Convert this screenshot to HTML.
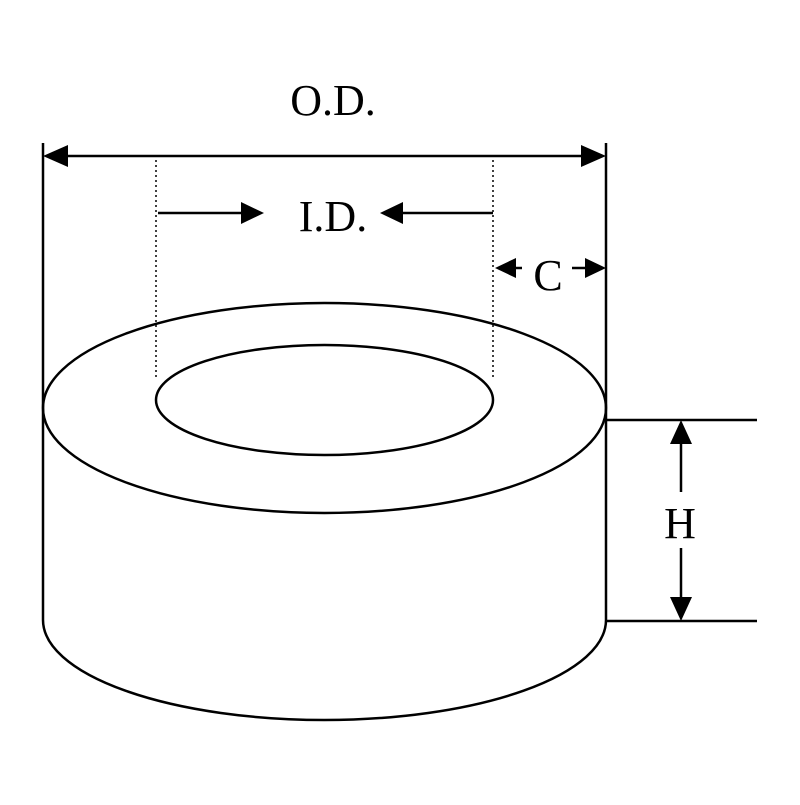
<!DOCTYPE html>
<html><head><meta charset="utf-8"><style>html,body{margin:0;padding:0;background:#fff}text{font-family:"Liberation Serif","Times New Roman",serif;}</style></head>
<body>
<svg width="800" height="800" viewBox="0 0 800 800" xmlns="http://www.w3.org/2000/svg">
<rect width="800" height="800" fill="#fff"/>
<g fill="none" stroke="#000" stroke-width="2.5">
<ellipse cx="324.5" cy="408" rx="281.5" ry="105"/>
<ellipse cx="324.5" cy="400" rx="168.5" ry="55"/>
<path d="M43,408 V620 A281.5,100 0 0 0 606,620 V408"/>
<line x1="43" y1="143" x2="43" y2="408"/>
<line x1="606" y1="143" x2="606" y2="408"/>
<line x1="60" y1="156" x2="590" y2="156"/>
<line x1="606" y1="420" x2="757" y2="420"/>
<line x1="606" y1="621" x2="757" y2="621"/>
<line x1="681" y1="438" x2="681" y2="492"/>
<line x1="681" y1="548" x2="681" y2="604"/>
<line x1="158" y1="213" x2="245" y2="213"/>
<line x1="396" y1="213" x2="493" y2="213"/>
<line x1="510" y1="268" x2="522" y2="268"/>
<line x1="572" y1="268" x2="590" y2="268"/>
</g>
<g fill="none" stroke="#000" stroke-width="1.5" stroke-dasharray="2,3">
<line x1="156" y1="160" x2="156" y2="378"/>
<line x1="493" y1="160" x2="493" y2="378"/>
</g>
<g fill="#000">
<polygon points="43,156 68,145 68,167"/>
<polygon points="606,156 581,145 581,167"/>
<polygon points="264,213 241,202 241,224"/>
<polygon points="380,213 403,202 403,224"/>
<polygon points="495,268 516,258 516,278"/>
<polygon points="606,268 585,258 585,278"/>
<polygon points="681,420 670,444 692,444"/>
<polygon points="681,621 670,597 692,597"/>
</g>
<g font-size="44" text-anchor="middle" fill="#000">
<text x="333" y="115">O.D.</text>
<text x="333" y="231">I.D.</text>
<text x="548" y="290">C</text>
<text x="680" y="538">H</text>
</g>
</svg>
</body></html>
